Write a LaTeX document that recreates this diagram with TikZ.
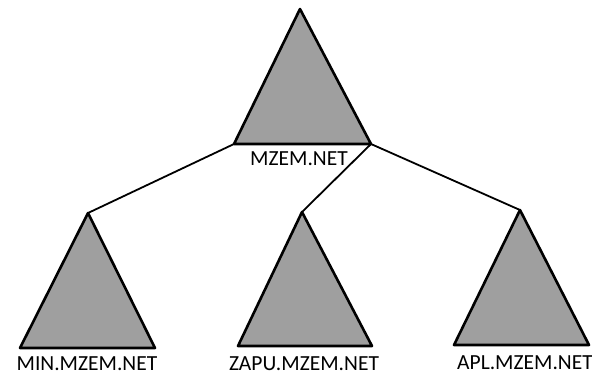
\documentclass[tikz,border=0pt]{standalone}
\usepackage{fontspec}
\setmainfont{Carlito}
\begin{document}
\begin{tikzpicture}[x=1pt,y=-1pt,
  tri/.style={draw=black,fill=gray!75,line width=2.6pt,line join=round},
  conn/.style={draw=black,line width=1.8pt},
  lbl/.style={font=\fontsize{21.5}{22}\selectfont,anchor=base,inner sep=0pt}]
\useasboundingbox (0,0) rectangle (592,376);
% top tree
\coordinate (tA) at (300,9);
\coordinate (tL) at (234,144);
\coordinate (tR) at (371,144);
% children
\coordinate (mA) at (88,213);
\coordinate (mL) at (20,348);
\coordinate (mR) at (155,348);
\coordinate (zA) at (302,212);
\coordinate (zL) at (238,346);
\coordinate (zR) at (372,346);
\coordinate (aA) at (520,210);
\coordinate (aL) at (454,345);
\coordinate (aR) at (589,345);
% connectors
\draw[conn] (tL) -- (mA);
\draw[conn] (tR) -- (zA);
\draw[conn] (tR) -- (aA);
% triangles
\draw[tri] (tA) -- (tR) -- (tL) -- cycle;
\draw[tri] (mA) -- (mR) -- (mL) -- cycle;
\draw[tri] (zA) -- (zR) -- (zL) -- cycle;
\draw[tri] (aA) -- (aR) -- (aL) -- cycle;
% labels
\node[lbl] (tlab) at (299,165) {MZEM.NET};
\node[lbl] (mlab) at (87,370) {MIN.MZEM.NET};
\node[lbl] (zlab) at (304,370) {ZAPU.MZEM.NET};
\node[lbl] (alab) at (525,369) {APL.MZEM.NET};
\end{tikzpicture}
\end{document}
